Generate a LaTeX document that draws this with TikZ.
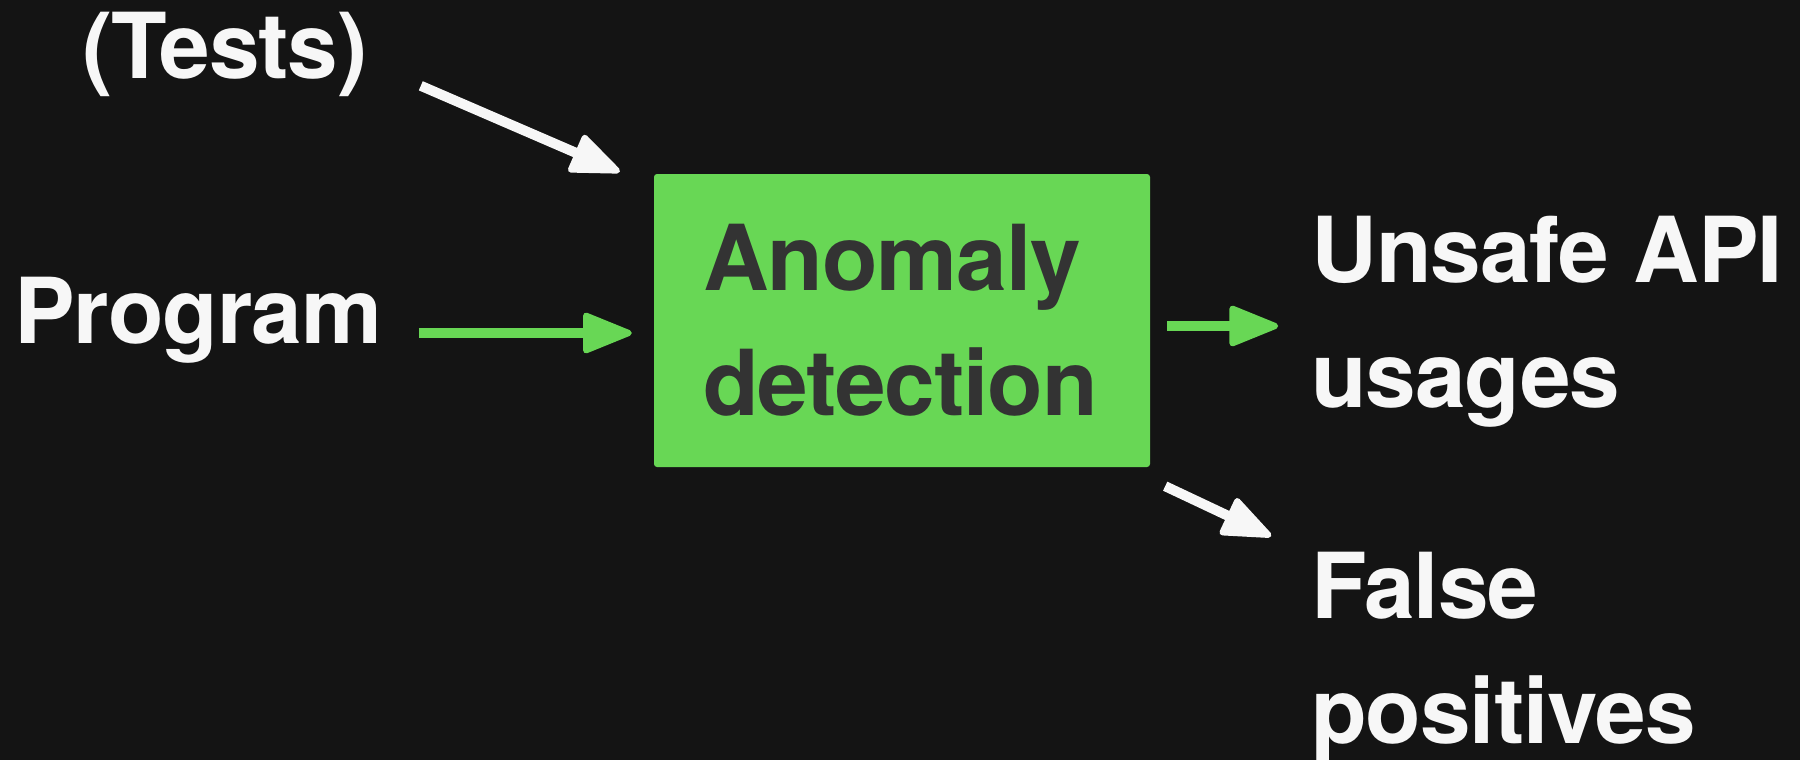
\documentclass[tikz,border=0pt]{standalone}
\usepackage{fontspec}
\setmainfont{TeX Gyre Heros}[LetterSpace=-1.2]
\usetikzlibrary{arrows.meta,calc}

\definecolor{bgdark}{HTML}{141414}
\definecolor{leafgreen}{HTML}{68D755}
\definecolor{inkwhite}{HTML}{F7F7F7}
\definecolor{inkdark}{HTML}{333333}

\tikzset{
  bigtext/.style={font=\fontsize{91}{125}\selectfont\bfseries, inner sep=0pt, align=left},
  label/.style={bigtext, text=inkwhite, anchor=base west},
  procbox/.style={bigtext, text=inkdark, fill=leafgreen, rounded corners=3pt,
    minimum width=496pt, minimum height=293pt, text width=398pt, inner xsep=49pt},
  flow/.style={line width=10pt, -{Triangle[length=54pt, width=42pt, round, line width=6pt]}},
  whiteflow/.style={flow, draw=inkwhite},
  greenflow/.style={flow, draw=leafgreen},
}

\begin{document}
\begin{tikzpicture}[x=1pt, y=-1pt]
  \fill[bgdark] (0,0) rectangle (1800,760);
  \path[use as bounding box] (0,0) rectangle (1800,760);

  % inputs
  \node[label] (tests) at (82,78) {(Tests)};
  \node[label] (program) at (14,343) {Program};

  % detector
  \node[procbox] (ad) at (902,320.5) {Anomaly\\detection};

  % outputs (anchored at the baseline of the last line)
  \node[label] (unsafe) at (1311,407) {Unsafe API\\usages};
  \node[label] (falsepos) at (1311,743) {False\\positives};

  % connectors
  \draw[whiteflow] ($(ad.north west)+(-233,-88)$) -- ($(ad.north west)+(-34,-2)$);
  \draw[greenflow] ($(ad.west)+(-235,12.5)$) -- ($(ad.west)+(-22,12.5)$);
  \draw[greenflow] ($(ad.east)+(17,5.5)$) -- ($(ad.east)+(128,5.5)$);
  \draw[whiteflow] ($(ad.south east)+(15,19)$) -- ($(ad.south east)+(121,69)$);
\end{tikzpicture}
\end{document}
